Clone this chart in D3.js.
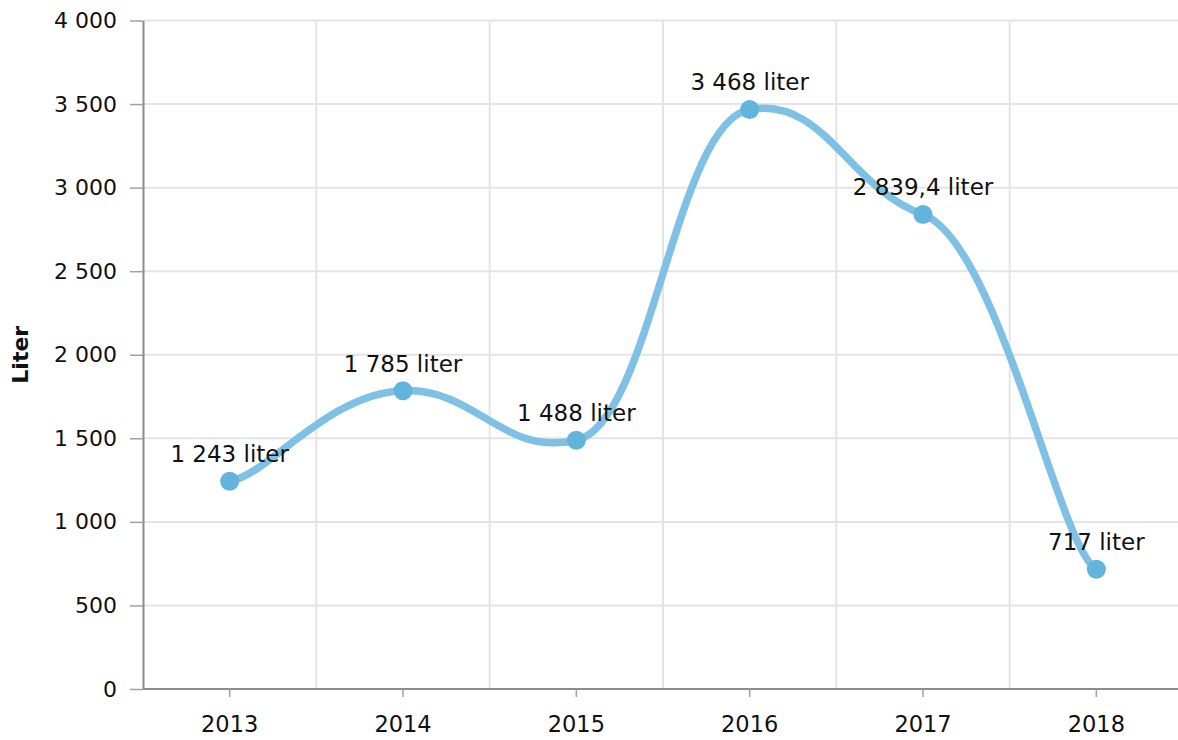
<!DOCTYPE html>
<html>
<head>
<meta charset="utf-8">
<script src="https://cdnjs.cloudflare.com/ajax/libs/d3/7.8.5/d3.min.js"></script>
<style>
  body { margin: 0; background: #fff; }
  svg, svg text { font-family: "DejaVu Sans", Verdana, sans-serif; }
</style>
</head>
<body>
<div id="chart"></div>
<script>
// data
var years = ['2013', '2014', '2015', '2016', '2017', '2018'];
var liters = [1243, 1785, 1488, 3468, 2839.4, 717];
var labels = ['1 243 liter', '1 785 liter', '1 488 liter', '3 468 liter', '2 839,4 liter', '717 liter'];
var yTicks = [0, 500, 1000, 1500, 2000, 2500, 3000, 3500, 4000];

var width = 1178, height = 740;
var plotLeft = 143, plotRight = 1183, plotTop = 20.5, plotBottom = 689;

var svg = d3.select('#chart').append('svg')
    .attr('width', width)
    .attr('height', height);

var x = d3.scaleBand().domain(years).range([plotLeft, plotRight]);
var y = d3.scaleLinear().domain([0, 4000]).range([plotBottom, plotTop]);

var fmt = function(v) { return d3.format(',')(v).replace(/,/g, ' '); };

// grid
var grid = svg.append('g').attr('class', 'grid');
grid.selectAll('.hgrid')
  .data(yTicks.filter(function(d) { return d > 0; }))
  .enter().append('line')
    .attr('x1', plotLeft).attr('x2', width)
    .attr('y1', function(d) { return y(d); })
    .attr('y2', function(d) { return y(d); })
    .attr('stroke', '#e4e4e4').attr('stroke-width', 2);

grid.selectAll('.vgrid')
  .data(years.slice(1))
  .enter().append('line')
    .attr('x1', function(d) { return x(d); })
    .attr('x2', function(d) { return x(d); })
    .attr('y1', plotTop).attr('y2', plotBottom)
    .attr('stroke', '#e4e4e4').attr('stroke-width', 2);

// y axis
var yAxis = svg.append('g')
    .attr('transform', 'translate(' + plotLeft + ',0)')
    .call(d3.axisLeft(y).tickValues(yTicks).tickFormat(fmt).tickSize(13).tickPadding(13).tickSizeOuter(0));
yAxis.attr('font-family', null);
yAxis.select('.domain').attr('stroke', '#8c8c8c').attr('stroke-width', 2);
yAxis.selectAll('.tick line').attr('stroke', '#a0a0a0').attr('stroke-width', 1.5);
yAxis.selectAll('.tick text').attr('font-size', 22).attr('fill', '#111');

// x axis
var xAxis = svg.append('g')
    .attr('transform', 'translate(0,' + plotBottom + ')')
    .call(d3.axisBottom(x).tickSize(8).tickPadding(19).tickSizeOuter(0));
xAxis.attr('font-family', null);
xAxis.select('.domain').attr('stroke', '#8c8c8c').attr('stroke-width', 2)
    .attr('d', 'M' + plotLeft + ',0H' + width);
xAxis.selectAll('.tick line').attr('stroke', '#a0a0a0').attr('stroke-width', 1.5);
xAxis.selectAll('.tick text').attr('font-size', 22.5).attr('fill', '#111');

// y title
svg.append('text')
    .attr('transform', 'translate(28,' + ((plotTop + plotBottom) / 2) + ') rotate(-90)')
    .attr('text-anchor', 'middle')
    .attr('font-size', 22)
    .attr('font-weight', 'bold')
    .attr('fill', '#111')
    .text('Liter');

var pts = years.map(function(d, i) {
  return { x: x(d) + x.bandwidth() / 2, y: y(liters[i]) };
});

// smoothed line, tension kept separate for x and y
function smoothPath(p, kx, ky) {
  var path = d3.path();
  path.moveTo(p[0].x, p[0].y);
  for (var i = 0; i < p.length - 1; i++) {
    var p0 = p[Math.max(i - 1, 0)], p1 = p[i], p2 = p[i + 1], p3 = p[Math.min(i + 2, p.length - 1)];
    path.bezierCurveTo(
      p1.x + (p2.x - p0.x) / 6 * kx, p1.y + (p2.y - p0.y) / 6 * ky,
      p2.x - (p3.x - p1.x) / 6 * kx, p2.y - (p3.y - p1.y) / 6 * ky,
      p2.x, p2.y);
  }
  return path.toString();
}

svg.append('path')
    .attr('d', smoothPath(pts, 1.3, 0.35))
    .attr('fill', 'none')
    .attr('stroke', '#7ec1e4')
    .attr('stroke-width', 7.5)
    .attr('stroke-linecap', 'round');

svg.selectAll('.dot')
  .data(pts)
  .enter().append('circle')
    .attr('cx', function(d) { return d.x; })
    .attr('cy', function(d) { return d.y; })
    .attr('r', 9.5)
    .attr('fill', '#62b4dc');

svg.selectAll('.lbl')
  .data(pts)
  .enter().append('text')
    .attr('x', function(d) { return d.x; })
    .attr('y', function(d) { return d.y - 19; })
    .attr('text-anchor', 'middle')
    .attr('font-size', 23)
    .attr('fill', '#111')
    .text(function(d, i) { return labels[i]; });
</script>
</body>
</html>
